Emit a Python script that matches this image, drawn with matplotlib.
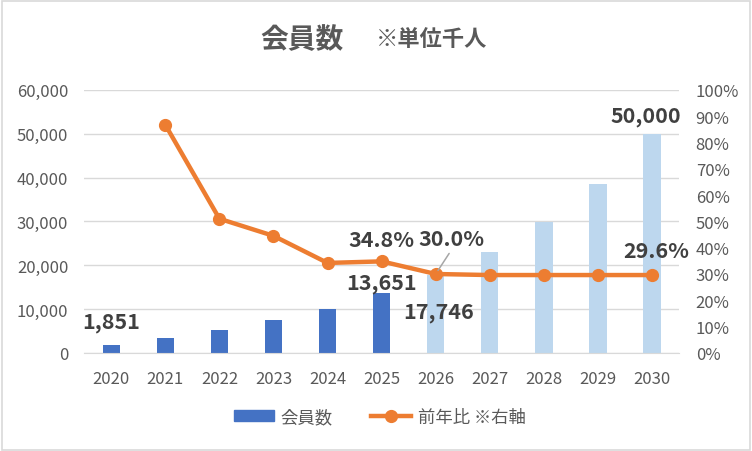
import matplotlib
matplotlib.use("Agg")
import matplotlib.pyplot as plt
from matplotlib.ticker import FuncFormatter, MultipleLocator
from matplotlib.patches import Rectangle, Patch
from matplotlib.lines import Line2D

plt.rcParams['font.family'] = ['Noto Sans CJK JP', 'DejaVu Sans']

years = ['2020', '2021', '2022', '2023', '2024', '2025', '2026', '2027', '2028', '2029', '2030']
members = [1851, 3456, 5219, 7541, 10120, 13651, 17746, 23000, 29800, 38600, 50000]
growth = [None, 86.7, 51.0, 44.5, 34.2, 34.8, 30.0, 29.6, 29.6, 29.6, 29.6]
actual_count = 6  # first six years are actuals (dark), rest forecast (light)

dark = '#4472C4'
light = '#BDD7EE'
orange = '#ED7D31'
grey = '#595959'
label_c = '#404040'

fig = plt.figure(figsize=(7.52, 4.52), dpi=100)
fig.patches.append(Rectangle((0.002, 0.002), 0.996, 0.994, transform=fig.transFigure,
                             fill=False, edgecolor='#D9D9D9', linewidth=1.2))
ax = fig.add_axes([0.112, 0.217, 0.791, 0.582])
x = list(range(len(years)))
colors = [dark if i < actual_count else light for i in x]
ax.bar(x, members, width=0.32, color=colors, zorder=2)
ax.set_ylim(0, 60000)
ax.set_xlim(-0.5, len(years) - 0.5)
ax.yaxis.set_major_locator(MultipleLocator(10000))
ax.yaxis.set_major_formatter(FuncFormatter(lambda v, p: f'{int(v):,}'))
ax.grid(axis='y', color='#D9D9D9', linewidth=1, zorder=0)
ax.set_axisbelow(True)
for s in ['top', 'right', 'left']:
    ax.spines[s].set_visible(False)
ax.spines['bottom'].set_color('#D9D9D9')
ax.tick_params(axis='both', length=0, labelsize=12, labelcolor=grey)
ax.tick_params(axis='y', pad=11.5)
ax.tick_params(axis='x', pad=12)
ax.set_xticks(x)
ax.set_xticklabels(years)

ax2 = ax.twinx()
gx = [i for i, g in enumerate(growth) if g is not None]
gy = [g / 100 for g in growth if g is not None]
ax2.plot(gx, gy, color=orange, linewidth=3.2, marker='o', markersize=8.5, zorder=3,
         solid_capstyle='round')
ax2.set_ylim(0, 1.0)
ax2.yaxis.set_major_locator(MultipleLocator(0.1))
ax2.yaxis.set_major_formatter(FuncFormatter(lambda v, p: f'{v*100:.0f}%'))
for s in ['top', 'right', 'left', 'bottom']:
    ax2.spines[s].set_visible(False)
ax2.tick_params(axis='y', length=0, labelsize=12, labelcolor=grey, pad=12)

lab = dict(fontsize=15.5, fontweight='bold', color=label_c,
           family=['Noto Sans CJK JP', 'DejaVu Sans'], ha='center', va='center',
           textcoords='offset pixels')
# bar labels
ax.annotate(f'{members[0]:,}', (0, members[0]), xytext=(0, 23), **lab)
ax.annotate(f'{members[5]:,}', (5, members[5]), xytext=(0, 11), **lab)
ax.annotate(f'{members[6]:,}', (6, members[6]), xytext=(3, -36), **lab)
ax.annotate(f'{members[10]:,}', (10, members[10]), xytext=(-6, 18), **lab)
# line labels
ax2.annotate(f'{growth[5]:.1f}%', (5, growth[5] / 100), xytext=(0, 22), **lab)
ax2.annotate(f'{growth[6]:.1f}%', (6, growth[6] / 100), xytext=(16, 35),
             arrowprops=dict(arrowstyle='-', color='#A6A6A6', linewidth=1.1,
                             relpos=(0.5, 0.0), shrinkA=1, shrinkB=3),
             **lab)
ax2.annotate(f'{growth[10]:.1f}%', (10, growth[10] / 100), xytext=(4, 25), **lab)

# title
fig.text(302 / 752, 1 - 40 / 452, '会員数', ha='center', va='center', fontsize=20,
         fontweight='bold', color=grey)
fig.text(432 / 752, 1 - 40 / 452, '※単位千人', ha='center', va='center', fontsize=16,
         fontweight='bold', color=grey)

# legend
handles = [Patch(color=dark, label='会員数'),
           Line2D([0], [0], color=orange, linewidth=3.2, marker='o', markersize=8.5, label='前年比 ※右軸')]
fig.legend(handles=handles, loc='center', bbox_to_anchor=(0.505, 1 - 418 / 452), ncol=2, frameon=False,
           fontsize=12.5, labelcolor=grey, handlelength=2.3, handleheight=0.6, columnspacing=2.2,
           handletextpad=0.4)

fig.savefig('out.png', dpi=100)
